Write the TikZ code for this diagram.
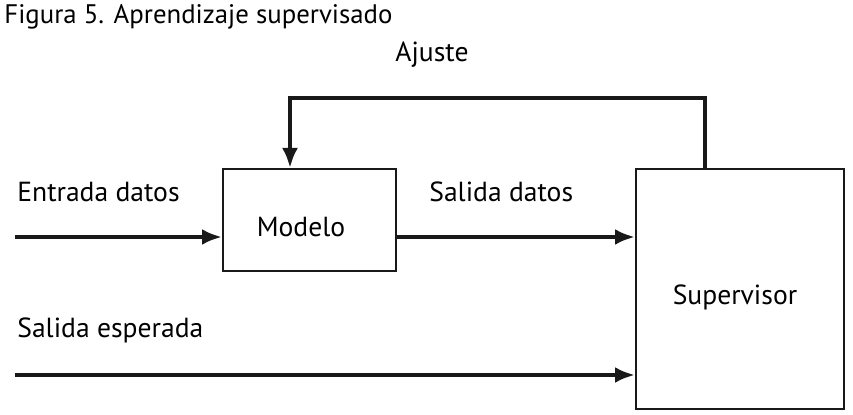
\documentclass[tikz,border=0pt]{standalone}
\usepackage{fontspec}
\setmainfont{PT Sans}
\usetikzlibrary{arrows.meta,positioning}
\tikzset{
  box/.style={
    rectangle,
    draw=black!90,
    line width=1.1pt,
    align=center,
    inner sep=0pt
  },
  flow/.style={
    -{Latex[length=10pt,width=8pt]},
    line width=2pt,
    draw=black!90
  },
  lbl/.style={
    font=\fontsize{13.8}{16}\selectfont,
    inner sep=0pt
  }
}
\begin{document}
\begin{tikzpicture}[x=0.5pt,y=-0.5pt]
\useasboundingbox (0,0) rectangle (853,415);
% title
\node[anchor=north west,inner sep=0pt,font=\fontsize{13.4}{16}\selectfont] (title) at (4,4) {Figura 5. Aprendizaje supervisado};

% blocks
\node[box,minimum width=86.5pt,minimum height=51pt,anchor=north west] (modelo) at (222,168) {};
\node[lbl] (modelotxt) at (301,227) {Modelo};
\node[box,minimum width=104pt,minimum height=120pt,anchor=north west] (super) at (635,168) {};
\node[lbl] (supertxt) at (735,297) {Supervisor};

% inputs
\coordinate (entrada) at (15,237);
\coordinate (esperada) at (15,375);
\draw[flow] (entrada) -- (modelo.west |- entrada);
\draw[flow] (modelo.east |- entrada) -- (super.west |- entrada);
\draw[flow] (esperada) -- (super.west |- esperada);

% feedback
\coordinate (fbr) at (705,98);
\coordinate (fbl) at (290,98);
\draw[flow] (super.north -| fbr) -- (fbr) -- (fbl) -- (fbl |- modelo.north);

% labels
\node[lbl,anchor=west] (lentrada) at (17,192) {Entrada datos};
\node[lbl,anchor=west] (lsalida) at (429,192) {Salida datos};
\node[lbl,anchor=west] (lesperada) at (17,330) {Salida esperada};
\node[lbl] (lajuste) at (432,55) {Ajuste};
\end{tikzpicture}
\end{document}
